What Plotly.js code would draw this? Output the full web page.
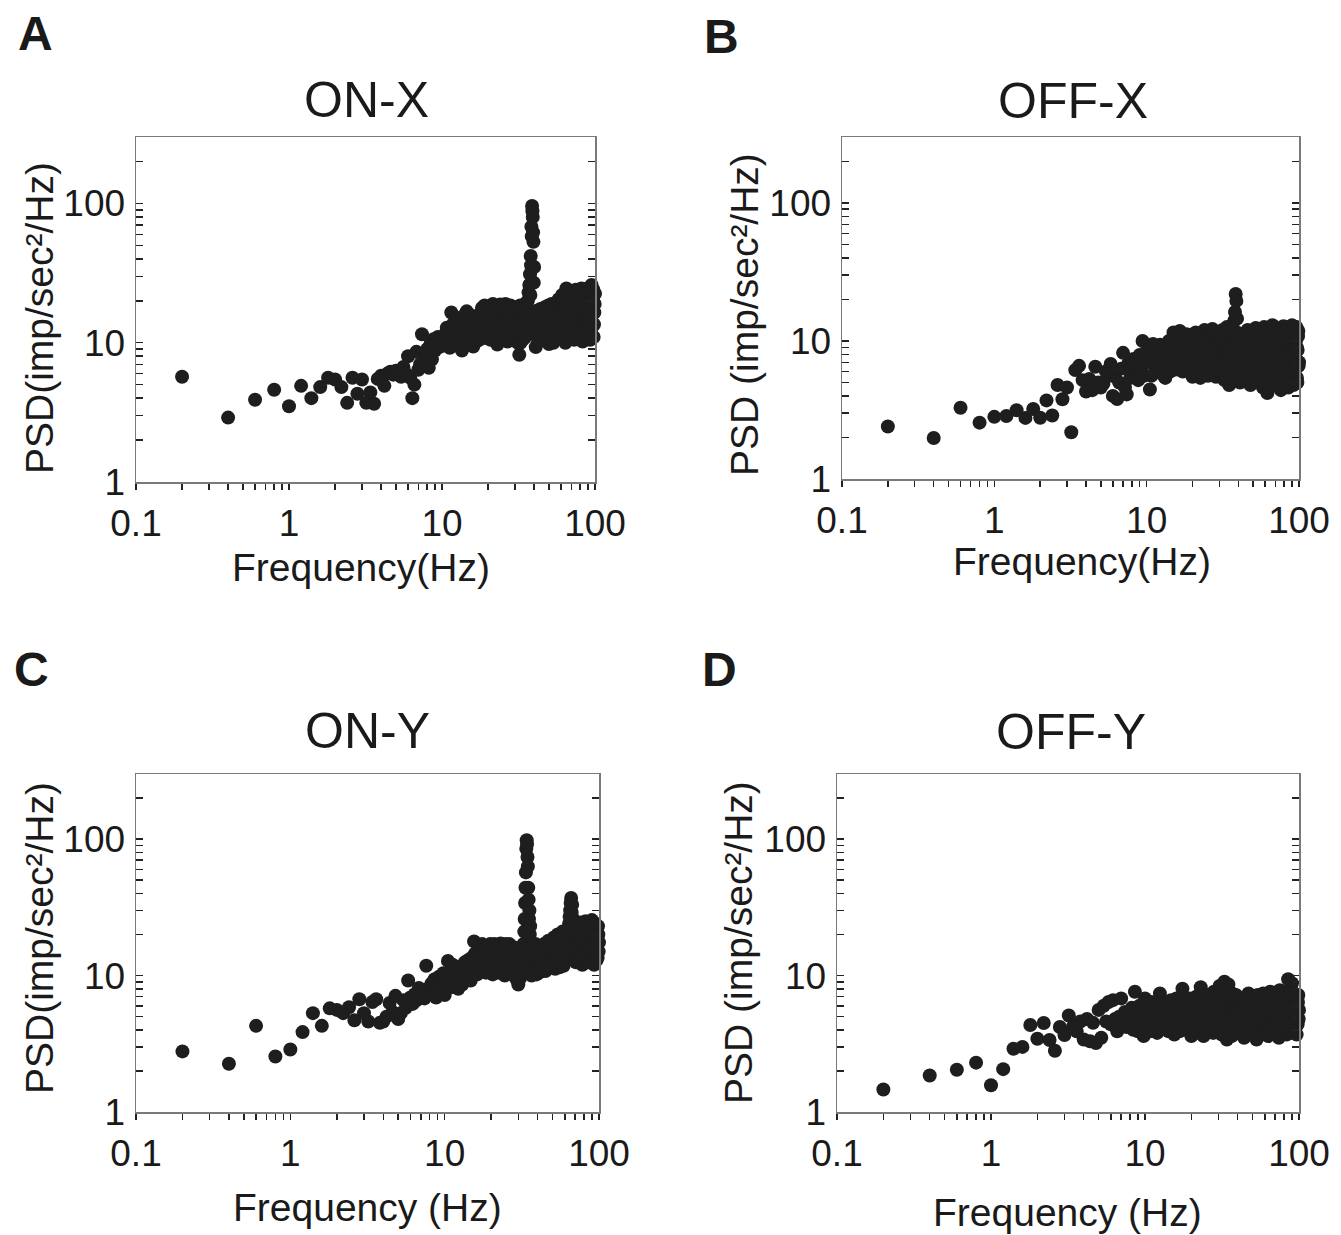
<!DOCTYPE html>
<html>
<head>
<meta charset="utf-8">
<script src="https://cdn.plot.ly/plotly-3.0.1.min.js"></script>
<style>
html,body{margin:0;padding:0;background:#ffffff;}
#plot{width:1341px;height:1235px;}
</style>
</head>
<body>
<div id="plot"></div>
<script>
// ---------- DATA ----------
// frequency bins (Hz), shared by the four cells
const freq = [
 0.2,0.4,0.6,0.8,1.0,1.2,1.4,1.6,1.8,2.0,2.2,2.4,2.6,2.8,3.0,3.2,3.4,3.6,3.8,4.0,
 4.2,4.4,4.6,4.8,5.0,5.2,5.4,5.6,5.8,6.0,6.2,6.4,6.6,6.8,7.0,7.2,7.4,7.6,7.8,8.0,
 8.2,8.4,8.6,8.8,9.0,9.2,9.4,9.6,9.8,10.0,
 10.5,11,11.5,12,12.5,13,13.5,14,14.5,15,15.5,16,16.5,17,17.5,18,18.5,19,19.5,20,
 20.5,21,21.5,22,22.5,23,23.5,24,24.5,25,25.5,26,26.5,27,27.5,28,28.5,29,29.5,30,
 30.5,31,31.5,32,
 32.4,32.8,33.2,33.6,34.0,34.4,34.8,35.2,35.6,36.0,36.4,36.8,37.2,37.6,38.0,38.4,38.8,39.2,39.6,40.0,
 41,42,43,44,45,46,47,48,49,50,51,52,53,54,55,56,57,58,59,60,
 61,62,63,64,65,66,67,68,69,70,71,72,73,74,75,76,77,78,79,80,
 81,82,83,84,85,86,87,88,89,90,91,92,93,94,95,96,97,98,99,100
];
// in-between bins of the dense part of the spectrum
const freqMid = [
 10.25,10.75,11.25,11.75,12.25,12.75,13.25,13.75,14.25,14.75,15.25,15.75,16.25,16.75,17.25,17.75,18.25,18.75,19.25,19.75,
 20.25,20.75,21.25,21.75,22.25,22.75,23.25,23.75,24.25,24.75,25.25,25.75,26.25,26.75,27.25,27.75,28.25,28.75,29.25,29.75,
 30.25,30.75,31.25,31.75,
 32.2,32.6,33.0,33.4,33.8,34.2,34.6,35.0,35.4,35.8,36.2,36.6,37.0,37.4,37.8,38.2,38.6,39.0,39.4,39.8,
 40.5,41.5,42.5,43.5,44.5,45.5,46.5,47.5,48.5,49.5,50.5,51.5,52.5,53.5,54.5,55.5,56.5,57.5,58.5,59.5,
 60.5,61.5,62.5,63.5,64.5,65.5,66.5,67.5,68.5,69.5,70.5,71.5,72.5,73.5,74.5,75.5,76.5,77.5,78.5,79.5,
 80.5,81.5,82.5,83.5,84.5,85.5,86.5,87.5,88.5,89.5,90.5,91.5,92.5,93.5,94.5,95.5,96.5,97.5,98.5,99.5
];

// PSD (imp/sec^2/Hz) per cell type
const psdOnX = [
 5.7,2.9,3.9,4.6,3.5,4.9,4.0,4.8,5.6,5.45,4.8,3.7,5.6,4.3,5.45,3.7,4.4,3.65,5.5,5.8,
 4.9,6.0,6.2,5.9,6.3,6.1,5.7,6.7,6.0,8.0,5.6,4.0,5.0,8.6,6.4,7.0,11.5,7.8,7.3,9.0,
 6.6,9.8,7.6,10.6,8.8,10.2,11.0,9.3,10.8,9.5,
 11.5,10.0,16.5,12.0,9.8,14.5,8.8,13.0,16.8,11.5,14.0,9.4,15.5,12.5,10.5,16.0,13.5,18.5,11.0,15.0,
 17.5,12.5,19.0,14.0,11.0,9.7,16.5,18.8,13.0,15.5,11.5,19.0,14.5,17.0,12.0,18.5,10.5,15.0,13.0,18.0,
 11.0,16.0,13.5,8.2,
 18.5,12.0,15.5,10.5,17.0,13.0,19.0,11.5,16.0,14.0,20.0,23.0,26.0,31.0,42.0,68.0,96.0,80.0,53.0,35.0,
 9.3,15.0,12.0,17.5,10.5,14.0,18.0,11.5,16.0,9.8,13.5,19.0,12.0,15.5,10.5,17.5,13.0,20.5,11.0,15.0,
 22.0,12.5,18.0,10.0,24.5,14.5,20.0,11.5,23.5,16.0,12.0,21.0,10.5,17.5,24.0,13.5,19.0,11.0,22.5,15.0,
 12.0,20.0,10.2,17.0,23.0,13.0,19.5,11.5,24.5,15.5,12.5,21.0,10.5,18.0,26.0,14.0,20.5,11.0,16.5,22.5
];
const psdOnXMid = [
 10.8,12.8,9.2,13.5,10.8,12.2,11.0,15.5,10.2,12.8,15.8,11.2,13.2,10.2,14.8,12.0,17.8,10.8,14.2,16.5,
 12.2,10.5,15.8,12.0,17.2,13.5,15.0,11.5,16.2,10.8,13.5,17.2,12.0,10.2,14.5,16.0,12.8,17.5,11.5,14.0,
 16.5,13.0,10.0,17.5,
 14.5,10.0,16.5,13.0,11.0,15.0,10.8,14.0,17.5,12.0,15.5,11.5,17.0,13.5,22.0,36.0,58.0,88.0,62.0,27.0,
 12.5,17.0,10.2,14.5,12.8,17.0,11.0,14.8,13.0,18.5,11.5,16.0,14.0,10.0,18.0,13.2,11.2,15.8,14.0,18.0,
 12.2,16.5,20.0,13.8,17.0,11.5,22.5,15.5,18.5,13.0,20.5,16.5,13.0,22.5,14.5,18.5,11.5,22.0,16.0,13.0,
 18.0,24.5,14.5,12.5,20.5,16.5,22.5,14.0,17.5,12.5,20.0,17.0,23.5,14.0,12.5,19.5,16.5,24.0,13.5,19.0
];
const psdOffX = [
 2.4,1.98,3.28,2.56,2.82,2.86,3.15,2.77,3.21,2.78,3.71,2.88,4.8,3.78,4.6,2.18,6.15,6.6,5.2,4.3,
 5.3,4.4,6.5,5.0,4.6,4.9,6.0,5.6,6.8,4.0,5.5,3.8,5.0,6.3,8.2,4.6,4.1,6.9,5.4,6.0,
 7.4,5.8,6.4,5.2,7.9,6.2,10.0,5.6,7.0,8.3,
 4.45,9.5,6.0,7.6,5.8,8.8,6.6,10.0,7.2,11.5,6.2,9.0,11.8,7.5,10.2,6.5,8.4,11.0,7.0,5.5,
 9.6,11.5,6.8,8.8,5.4,10.5,7.6,12.0,6.2,9.2,11.0,5.8,8.0,12.2,6.9,10.0,5.5,8.6,11.4,7.2,
 9.6,6.0,12.0,8.0,
 5.2,10.4,7.4,12.6,6.4,9.2,4.8,11.0,7.8,10.0,5.8,8.6,12.0,14.0,16.2,21.9,19.5,14.5,6.2,9.4,
 5.0,11.0,7.6,9.8,5.6,12.0,8.2,4.8,10.6,6.8,9.0,12.4,5.4,7.8,11.2,6.2,9.6,4.6,12.6,7.2,
 10.2,4.2,8.6,11.6,6.0,9.2,13.0,5.2,7.6,11.0,4.8,9.8,6.6,12.2,8.0,4.4,10.8,6.4,12.8,8.8,
 5.0,11.4,7.0,9.4,4.6,12.0,6.8,10.4,5.6,13.0,8.0,4.8,11.2,6.4,9.8,12.6,5.4,8.6,11.8,7.0
];
const psdOffXMid = [
 7.0,5.6,8.2,6.8,9.4,7.0,5.4,8.0,6.0,9.0,8.0,10.4,7.0,8.6,6.0,9.4,11.2,6.8,9.0,10.6,
 7.8,6.2,9.0,10.6,7.0,9.6,6.0,8.4,10.4,7.6,5.6,8.2,10.8,6.6,9.0,11.4,7.6,9.4,6.2,10.0,
 8.2,11.2,7.0,9.8,
 8.6,6.8,11.6,5.6,8.8,11.0,6.0,8.0,5.4,12.0,7.0,10.8,6.2,9.0,5.2,7.6,10.4,5.6,8.4,11.4,
 7.0,8.6,5.8,10.6,7.0,9.0,5.4,10.8,6.6,8.4,11.8,5.2,7.4,9.8,6.0,8.6,10.8,5.6,7.8,9.6,
 5.2,11.8,6.8,9.8,5.0,7.6,10.8,8.4,6.0,12.2,7.2,9.4,5.4,10.4,6.4,11.4,7.6,5.6,9.6,7.2,
 10.6,6.2,8.4,12.0,5.8,8.0,10.2,5.0,7.8,11.6,6.2,10.2,8.2,5.8,12.0,7.4,9.0,5.0,10.8,6.6
];
const psdOnY = [
 2.78,2.26,4.28,2.55,2.87,3.85,5.3,4.28,5.75,5.6,5.3,5.85,4.7,6.7,5.3,4.6,6.4,6.7,4.5,4.6,
 5.0,6.3,5.4,7.1,4.8,5.3,6.6,5.8,9.2,6.9,6.2,7.3,6.6,8.1,7.0,7.6,6.8,11.8,8.0,7.3,
 8.7,7.8,9.4,6.9,8.4,9.8,7.4,8.9,10.4,7.2,
 12.8,8.2,10.0,9.0,11.5,8.6,12.5,9.6,11.0,13.5,17.8,12.0,15.5,11.0,17.0,13.0,10.5,16.0,12.0,14.5,
 10.2,17.0,13.0,15.5,10.5,17.2,12.5,14.0,10.0,16.0,12.0,15.0,10.8,13.5,16.2,11.5,14.0,9.5,12.5,8.6,
 11.0,15.0,12.0,14.0,
 17.0,21.0,34.0,57.0,98.0,74.0,44.0,26.0,20.0,16.0,11.0,14.0,10.2,15.5,12.0,10.5,17.0,13.0,11.0,15.0,
 10.5,15.0,12.0,17.0,10.8,14.0,18.0,11.5,16.0,13.0,19.0,11.2,15.5,20.0,12.5,17.5,13.8,21.0,11.8,16.0,
 19.5,13.0,22.0,24.0,30.0,37.0,33.0,26.0,15.0,20.0,12.5,23.0,17.0,13.5,21.0,24.5,15.0,12.0,19.0,22.5,
 14.0,25.0,17.5,12.5,20.5,15.5,23.5,13.0,18.5,25.5,14.5,21.5,12.0,19.0,24.0,16.0,22.0,13.5,20.0,17.5
];
const psdOnYMid = [
 9.2,10.6,12.0,11.0,8.0,10.2,9.6,11.2,13.0,9.2,11.0,14.5,10.2,13.5,15.0,11.8,15.5,13.5,11.0,17.0,
 12.5,15.5,11.5,14.0,12.0,16.5,11.0,15.5,12.5,17.0,10.5,13.5,17.0,12.5,11.0,14.5,13.0,16.0,11.0,14.5,
 12.5,9.5,13.0,10.5,
 12.5,15.5,26.0,44.0,85.0,92.0,63.0,36.0,30.0,23.0,13.0,10.0,12.5,16.5,11.0,14.5,12.0,15.5,10.2,13.0,
 13.0,12.0,16.5,13.5,11.0,15.5,12.5,15.0,17.5,11.5,14.5,16.5,13.0,18.0,14.0,11.5,15.0,19.0,13.5,17.5,
 14.0,21.0,16.5,18.5,27.0,34.0,29.0,22.5,17.0,13.0,18.0,15.0,20.0,13.0,18.0,14.5,21.5,17.5,13.5,23.5,
 16.5,19.5,13.0,22.0,15.5,18.0,13.0,20.0,16.0,22.0,13.5,18.0,15.5,23.0,14.0,20.5,13.0,18.5,23.0,15.0
];
const psdOffY = [
 1.46,1.85,2.04,2.30,1.57,2.06,2.91,3.0,4.34,3.44,4.49,3.37,2.81,4.2,3.67,5.1,4.2,3.9,4.6,3.4,
 4.8,3.3,4.5,3.2,5.6,3.5,6.0,4.6,6.4,4.4,6.6,4.8,3.9,5.0,6.8,4.5,5.4,4.2,5.2,4.6,
 5.8,4.0,7.6,5.0,3.9,6.0,4.8,5.5,3.6,6.8,
 4.4,6.4,5.0,3.8,7.4,5.4,4.2,6.2,4.8,5.8,3.7,6.8,4.5,5.2,8.0,4.0,6.0,4.9,6.8,3.6,
 5.6,4.4,7.0,5.0,4.0,8.2,5.8,3.6,6.4,4.6,7.2,5.2,3.9,6.0,4.4,7.6,5.4,4.0,6.6,4.8,
 8.4,5.6,3.7,6.2,
 4.4,9.0,5.0,7.0,3.4,5.8,8.6,4.6,6.6,4.0,5.4,7.4,3.8,6.0,4.8,7.0,5.2,3.9,6.4,5.0,
 4.2,6.8,5.0,3.5,6.2,4.6,7.4,5.4,3.9,6.6,4.8,5.8,3.4,7.2,5.0,4.2,6.4,3.8,5.6,7.0,
 4.4,6.0,3.6,5.2,7.6,4.6,6.2,3.9,5.6,7.0,4.2,6.6,5.0,3.5,7.8,4.8,6.0,4.0,5.4,7.2,
 4.4,6.4,3.7,5.8,9.4,4.6,7.0,5.2,4.0,8.8,6.2,4.8,7.4,5.4,4.2,6.8,5.8,4.4,7.2,5.6
];
const psdOffYMid = [
 5.6,3.9,4.8,5.8,4.4,6.0,4.6,5.2,3.9,6.6,4.4,5.0,6.0,3.9,4.8,6.4,5.2,4.2,5.8,4.4,
 6.2,4.8,3.8,5.6,6.6,4.6,5.4,4.2,5.0,7.0,4.0,5.8,4.6,6.8,5.0,3.8,5.8,4.6,7.0,5.2,
 4.0,6.0,4.6,5.4,
 5.6,3.8,6.4,4.2,5.4,6.8,4.0,5.2,7.6,4.6,6.2,3.6,5.6,4.4,6.6,4.2,5.8,7.2,4.6,5.8,
 5.6,3.8,4.6,6.0,5.0,3.7,5.8,4.4,6.6,5.2,3.9,6.2,4.6,5.4,4.0,6.8,5.4,4.6,7.4,4.2,
 5.6,3.7,4.8,6.6,4.2,5.6,3.8,5.0,6.8,4.4,5.4,3.9,4.6,6.2,5.6,4.2,6.8,3.8,5.0,6.2,
 4.6,5.6,4.0,6.8,4.6,5.2,6.0,3.9,8.0,4.8,5.6,3.8,6.6,4.4,6.0,5.0,3.7,4.6,6.4,4.8
];

// text
const panelLetters = ['A','B','C','D'];
const panelTitles = ['ON-X','OFF-X','ON-Y','OFF-Y'];
const xTitles = ['Frequency(Hz)','Frequency(Hz)','Frequency (Hz)','Frequency (Hz)'];
const yTitles = ['PSD(imp/sec²/Hz)','PSD (imp/sec²/Hz)','PSD(imp/sec²/Hz)','PSD (imp/sec²/Hz)'];

// ticks
const xTickVals = [0.1,1,10,100];
const xTickText = ['0.1','1','10','100'];
const xMinorVals = [0.2,0.3,0.4,0.5,0.6,0.7,0.8,0.9,2,3,4,5,6,7,8,9,20,30,40,50,60,70,80,90];
const yTickVals = [1,10,100];
const yTickText = ['1','10','100'];
const yMinorVals = [2,3,4,5,6,7,8,9,20,30,40,50,60,70,80,90,200];

// ---------- LAYOUT ----------
const W = 1341, H = 1235;
const FONT = 'Liberation Sans, Arial, Helvetica, sans-serif';
const INK = '#1a1a1a';
// plot boxes in px: [left, right, top, bottom]
const boxes = [[136,595,137,482],[842,1299,137,479],[136,599,774,1112],[837,1299,774,1112]];
const letterPos = [[35,34],[722,36],[31,669],[719,669]];
const titlePos = [[366,100],[1073,101],[367,731],[1071,732]];
const xTitlePos = [[361,568],[1082,561],[367,1207],[1067,1212]];
const yTitlePos = [[39,318],[744,315],[39,938],[738,943]];
const series = [[psdOnX, psdOnXMid], [psdOffX, psdOffXMid], [psdOnY, psdOnYMid], [psdOffY, psdOffYMid]];

const traces = [];
const layout = {
  width: W, height: H,
  margin: {l:0, r:0, t:0, b:0},
  paper_bgcolor: '#ffffff', plot_bgcolor: '#ffffff',
  showlegend: false,
  font: {family: FONT, color: INK},
  annotations: []
};

const px = x => x / W;
const py = y => 1 - y / H;

series.forEach((s, i) => {
  const n = i === 0 ? '' : String(i + 1);
  traces.push({
    type: 'scatter', mode: 'markers', name: panelTitles[i],
    x: freq.concat(freqMid), y: s[0].concat(s[1]), xaxis: 'x' + n, yaxis: 'y' + n,
    cliponaxis: false,
    marker: {size: 14, color: '#1e1e1e', line: {width: 0}}
  });
  const b = boxes[i];
  layout['xaxis' + n] = {
    type: 'log', range: [-1, 2], domain: [px(b[0]), px(b[1])], anchor: 'y' + n,
    tickmode: 'array', tickvals: xTickVals, ticktext: xTickText,
    ticks: 'outside', ticklen: 6, tickwidth: 1.5, tickcolor: '#222',
    minor: {tickmode: 'array', tickvals: xMinorVals, ticks: 'outside', ticklen: 6, tickwidth: 1.5, tickcolor: '#222', showgrid: false},
    showline: true, linecolor: '#7a7a7a', linewidth: 1.5, mirror: true,
    showgrid: false, zeroline: false, ticklabelstandoff: 2,
    tickfont: {family: FONT, size: 37, color: INK}
  };
  layout['yaxis' + n] = {
    type: 'log', range: [0, Math.log10(300)], domain: [py(b[3]), py(b[2])], anchor: 'x' + n,
    tickmode: 'array', tickvals: yTickVals, ticktext: yTickText,
    ticks: 'inside', ticklen: 7, tickwidth: 1.5, tickcolor: '#222',
    minor: {tickmode: 'array', tickvals: yMinorVals, ticks: 'inside', ticklen: 7, tickwidth: 1.5, tickcolor: '#222', showgrid: false},
    showline: true, linecolor: '#7a7a7a', linewidth: 1.5, mirror: 'ticks',
    showgrid: false, zeroline: false, ticklabelstandoff: 2,
    tickfont: {family: FONT, size: 37, color: INK}
  };
  const A = layout.annotations;
  A.push({xref:'paper', yref:'paper', x: px(letterPos[i][0]), y: py(letterPos[i][1]),
    xanchor:'center', yanchor:'middle', showarrow:false, text: '<b>' + panelLetters[i] + '</b>',
    font:{family: FONT, size: 48, color: INK}});
  A.push({xref:'paper', yref:'paper', x: px(titlePos[i][0]), y: py(titlePos[i][1]),
    xanchor:'center', yanchor:'middle', showarrow:false, text: panelTitles[i],
    font:{family: FONT, size: 50, color: INK}});
  A.push({xref:'paper', yref:'paper', x: px(xTitlePos[i][0]), y: py(xTitlePos[i][1]),
    xanchor:'center', yanchor:'middle', showarrow:false, text: xTitles[i],
    font:{family: FONT, size: 39, color: INK}});
  A.push({xref:'paper', yref:'paper', x: px(yTitlePos[i][0]), y: py(yTitlePos[i][1]),
    xanchor:'center', yanchor:'middle', showarrow:false, textangle: -90, text: yTitles[i],
    font:{family: FONT, size: 39, color: INK}});
});

Plotly.newPlot('plot', traces, layout, {displayModeBar: false, staticPlot: true});
</script>
</body>
</html>
